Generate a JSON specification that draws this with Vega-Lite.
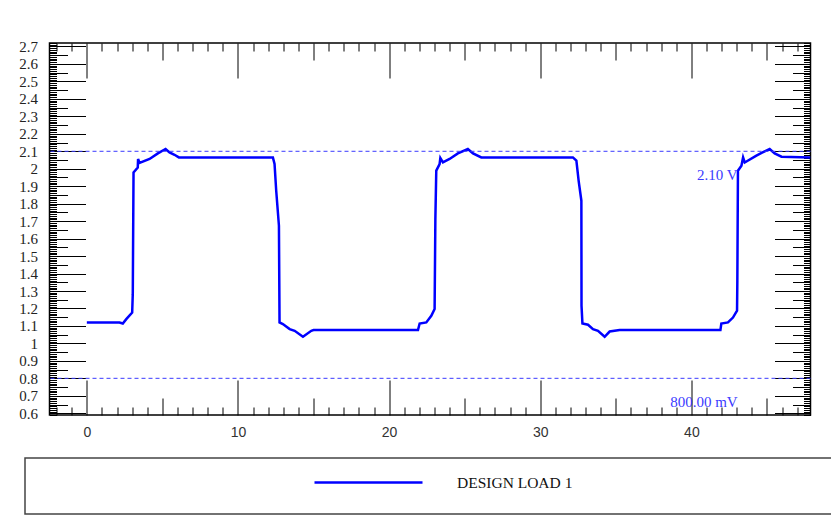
{
  "$schema": "https://vega.github.io/schema/vega-lite/v6.json",
  "background": "white",
  "padding": {"left": 7, "top": 35, "right": 0, "bottom": 0},
  "bounds": "flush",
  "center": true,
  "spacing": 43,
  "config": {
    "view": {"stroke": "black", "strokeWidth": 1.5},
    "axis": {"grid": false, "domain": false, "title": null, "tickColor": "black", "tickWidth": 1, "labelOverlap": false, "labelFlush": false, "labelBound": false}
  },
  "resolve": {"legend": {"color": "independent"}},
  "vconcat": [
    {
      "width": 761,
      "height": 372,
      "layer": [
        {
          "data": {"values": [
            {"t": 0, "v": 1.12}, {"t": 2.16, "v": 1.12}, {"t": 2.38, "v": 1.114}, {"t": 2.61, "v": 1.139},
            {"t": 3.0, "v": 1.177}, {"t": 3.04, "v": 1.282}, {"t": 3.09, "v": 1.979}, {"t": 3.37, "v": 2.007},
            {"t": 3.39, "v": 2.056}, {"t": 3.49, "v": 2.033}, {"t": 4.15, "v": 2.056}, {"t": 4.7, "v": 2.088},
            {"t": 5.21, "v": 2.113}, {"t": 5.47, "v": 2.093}, {"t": 5.8, "v": 2.08}, {"t": 6.09, "v": 2.065},
            {"t": 12.31, "v": 2.065}, {"t": 12.42, "v": 2.027}, {"t": 12.53, "v": 1.874}, {"t": 12.71, "v": 1.674},
            {"t": 12.75, "v": 1.12}, {"t": 12.97, "v": 1.111}, {"t": 13.42, "v": 1.082}, {"t": 13.75, "v": 1.072},
            {"t": 14.3, "v": 1.038}, {"t": 14.85, "v": 1.072}, {"t": 15.0, "v": 1.076}, {"t": 21.91, "v": 1.076},
            {"t": 22.02, "v": 1.114}, {"t": 22.46, "v": 1.12}, {"t": 22.79, "v": 1.158}, {"t": 23.01, "v": 1.197},
            {"t": 23.06, "v": 1.712}, {"t": 23.12, "v": 1.989}, {"t": 23.34, "v": 2.027}, {"t": 23.39, "v": 2.061},
            {"t": 23.56, "v": 2.036}, {"t": 24.0, "v": 2.056}, {"t": 24.55, "v": 2.088}, {"t": 25.21, "v": 2.113},
            {"t": 25.55, "v": 2.088}, {"t": 26.1, "v": 2.065}, {"t": 32.16, "v": 2.065}, {"t": 32.39, "v": 2.046},
            {"t": 32.54, "v": 1.931}, {"t": 32.72, "v": 1.817}, {"t": 32.73, "v": 1.215}, {"t": 32.79, "v": 1.114},
            {"t": 33.16, "v": 1.107}, {"t": 33.49, "v": 1.082}, {"t": 33.82, "v": 1.072}, {"t": 34.26, "v": 1.038},
            {"t": 34.59, "v": 1.068}, {"t": 35.25, "v": 1.076}, {"t": 41.92, "v": 1.076}, {"t": 41.98, "v": 1.114},
            {"t": 42.42, "v": 1.12}, {"t": 42.75, "v": 1.148}, {"t": 43.02, "v": 1.187}, {"t": 43.04, "v": 1.359},
            {"t": 43.08, "v": 1.989}, {"t": 43.31, "v": 2.017}, {"t": 43.42, "v": 2.065}, {"t": 43.53, "v": 2.036},
            {"t": 44.3, "v": 2.075}, {"t": 44.85, "v": 2.1}, {"t": 45.18, "v": 2.113}, {"t": 45.51, "v": 2.088},
            {"t": 45.96, "v": 2.069}, {"t": 47.88, "v": 2.065}
          ]},
          "mark": {"type": "line", "color": "#0000ff", "strokeWidth": 2.5, "clip": true},
          "encoding": {
            "x": {"field": "t", "type": "quantitative",
              "scale": {"domain": [-2.47, 47.88], "nice": false, "zero": false},
              "axis": {"orient": "bottom", "tickCount": 50,
                "tickSize": {"condition": [{"test": "datum.value % 10 === 0", "value": -35}, {"test": "datum.value % 5 === 0", "value": -17}], "value": -8},
                "labelExpr": "datum.value % 10 === 0 ? datum.label : ''",
                "labelPadding": 45, "labelFont": "Liberation Sans", "labelFontSize": 14, "labelColor": "#333"}},
            "y": {"field": "v", "type": "quantitative",
              "scale": {"domain": [0.59, 2.72], "nice": false, "zero": false},
              "axis": {"orient": "left", "tickCount": 200,
                "tickSize": {"condition": [{"test": "abs(datum.value*10-round(datum.value*10))<1e-6", "value": -36}, {"test": "abs(datum.value*20-round(datum.value*20))<1e-6", "value": -18}], "value": -7},
                "labelExpr": "abs(datum.value*10-round(datum.value*10))<1e-6 ? format(datum.value, '~g') : ''",
                "labelPadding": 48, "labelFont": "Liberation Serif", "labelFontSize": 15, "labelColor": "#222"}}
          }
        },
        {
          "data": {"values": [{"level": 2.1, "label": "2.10 V"}, {"level": 0.8, "label": "800.00 mV"}]},
          "mark": {"type": "rule", "color": "#3a3aff", "strokeWidth": 1, "strokeDash": [4, 3]},
          "encoding": {
            "y": {"field": "level", "type": "quantitative",
              "scale": {"domain": [0.59, 2.72], "nice": false, "zero": false},
              "axis": {"orient": "right", "tickCount": 200, "labels": false,
                "tickSize": {"condition": [{"test": "abs(datum.value*10-round(datum.value*10))<1e-6", "value": -36}, {"test": "abs(datum.value*20-round(datum.value*20))<1e-6", "value": -18}], "value": -7}}}
          }
        },
        {
          "data": {"values": [{"level": 2.1, "label": "2.10 V"}, {"level": 0.8, "label": "800.00 mV"}]},
          "mark": {"type": "text", "align": "right", "baseline": "middle", "dy": 23.5, "font": "Liberation Serif", "fontSize": 15, "color": "#3a3aff"},
          "encoding": {
            "x": {"datum": 43.06, "type": "quantitative",
              "scale": {"domain": [-2.47, 47.88], "nice": false, "zero": false},
              "axis": {"orient": "top", "tickCount": 50, "labels": false,
                "tickSize": {"condition": [{"test": "datum.value % 10 === 0", "value": -35}, {"test": "datum.value % 5 === 0", "value": -17}], "value": -8}}},
            "y": {"field": "level", "type": "quantitative", "axis": null},
            "text": {"field": "label"}
          }
        }
      ],
      "resolve": {"axis": {"x": "independent", "y": "independent"}}
    },
    {
      "width": 810,
      "height": 56,
      "view": {"stroke": "#444", "strokeWidth": 1.5},
      "data": {"values": [{"series": "DESIGN LOAD 1"}]},
      "mark": {"type": "line", "strokeWidth": 2.5},
      "encoding": {
        "color": {"field": "series", "type": "nominal", "scale": {"range": ["#0000ff"]},
          "legend": {"orient": "none", "legendX": 288, "legendY": -31, "title": null, "padding": 0,
            "symbolType": "stroke", "symbolSize": 11664, "symbolStrokeWidth": 2.5, "symbolStrokeColor": "#0000ff",
            "labelFont": "Liberation Serif", "labelFontSize": 15.5, "labelColor": "#111", "labelOffset": 33, "labelLimit": 400}}
      }
    }
  ]
}
